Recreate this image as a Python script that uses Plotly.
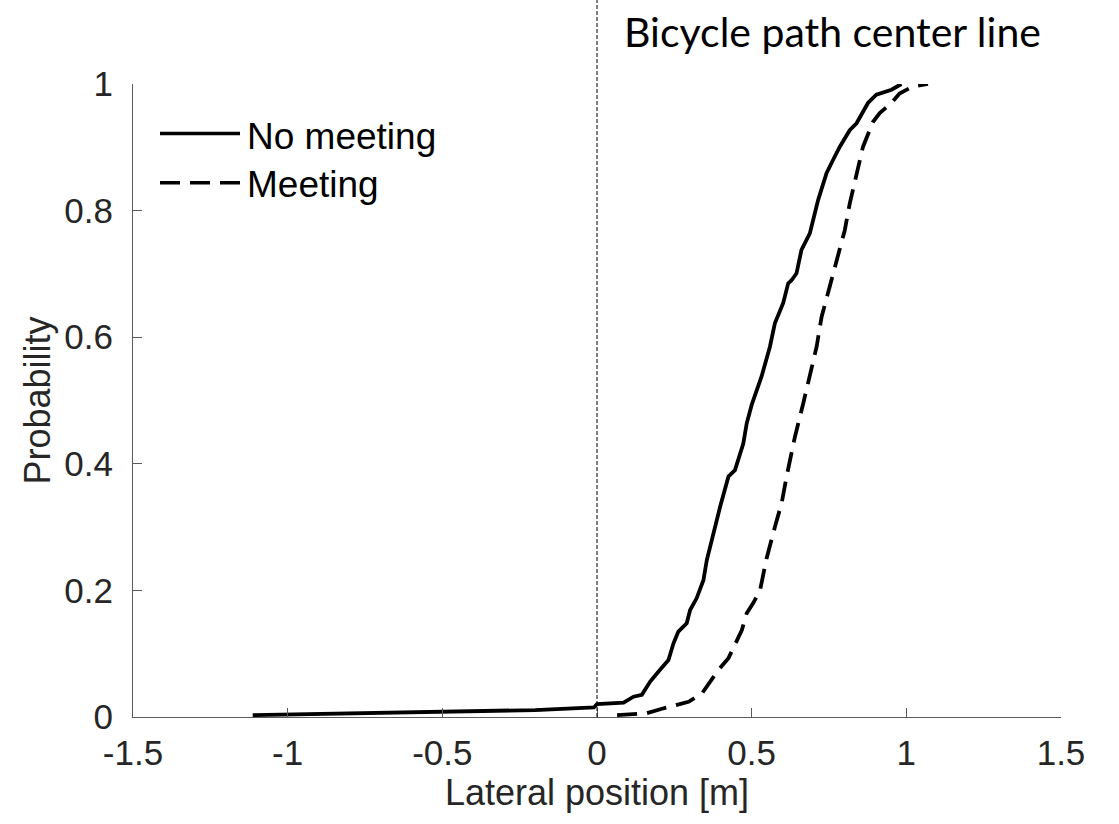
import plotly.graph_objects as go

# Empirical CDF of lateral position, no oncoming cyclist
no_meeting_x = [-1.113, -0.5, -0.2, -0.01, 0.0, 0.086, 0.118, 0.145, 0.172, 0.199, 0.231,
                0.247, 0.263, 0.29, 0.301, 0.322, 0.344, 0.355, 0.371, 0.398, 0.425, 0.446,
                0.473, 0.484, 0.5, 0.532, 0.559, 0.575, 0.602, 0.618, 0.629, 0.645, 0.661,
                0.688, 0.715, 0.742, 0.763, 0.785, 0.817, 0.839, 0.876, 0.903, 0.952, 0.984]
no_meeting_y = [0.003, 0.008, 0.011, 0.015, 0.0205, 0.0226, 0.032, 0.035, 0.056, 0.072, 0.09,
                0.116, 0.135, 0.148, 0.169, 0.1875, 0.216, 0.248, 0.28, 0.332, 0.38, 0.39,
                0.432, 0.464, 0.493, 0.538, 0.585, 0.622, 0.654, 0.685, 0.69, 0.701, 0.738,
                0.764, 0.817, 0.859, 0.88, 0.901, 0.927, 0.938, 0.97, 0.983, 0.991, 1.0]

# Empirical CDF of lateral position, meeting an oncoming cyclist
meeting_x = [0.065, 0.108, 0.161, 0.21, 0.253, 0.296, 0.339, 0.366, 0.392, 0.425, 0.446,
             0.468, 0.484, 0.505, 0.527, 0.548, 0.575, 0.597, 0.613, 0.624, 0.64, 0.667,
             0.688, 0.71, 0.726, 0.747, 0.774, 0.801, 0.817, 0.839, 0.86, 0.892, 0.914,
             0.952, 0.978, 1.021, 1.07]
meeting_y = [0.003, 0.004, 0.006, 0.013, 0.019, 0.024, 0.037, 0.056, 0.074, 0.093, 0.116,
             0.137, 0.164, 0.18, 0.2, 0.25, 0.3, 0.338, 0.38, 0.406, 0.443, 0.496,
             0.538, 0.585, 0.632, 0.669, 0.722, 0.769, 0.811, 0.854, 0.901, 0.94, 0.954,
             0.97, 0.985, 0.996, 1.0]

x_ticks = [-1.5, -1, -0.5, 0, 0.5, 1, 1.5]
x_tick_text = ["-1.5", "-1", "-0.5", "0", "0.5", "1", "1.5"]
y_ticks = [0, 0.2, 0.4, 0.6, 0.8, 1]
y_tick_text = ["0", "0.2", "0.4", "0.6", "0.8", "1"]

series_names = ["No meeting", "Meeting"]

AXIS = "#5a5a5a"
TEXT = "#262626"
FONT = "Liberation Sans, Arial, sans-serif"
DASH = "20px,10px"

# plot-area geometry (pixels) used to place paper-referenced items
L, R, T, B = 133, 1061, 84, 717
PW, PH = R - L, B - T


def px(xp):
    return (xp - L) / PW


def py(yp):
    return (B - yp) / PH


fig = go.Figure()
fig.add_trace(go.Scatter(x=no_meeting_x, y=no_meeting_y, mode="lines", name=series_names[0],
                         line=dict(color="black", width=3.8), showlegend=False))
fig.add_trace(go.Scatter(x=meeting_x, y=meeting_y, mode="lines", name=series_names[1],
                         line=dict(color="black", width=3.8, dash=DASH), showlegend=False))

# Bicycle path center line
fig.add_shape(type="line", xref="x", yref="paper", x0=0, x1=0, y0=0, y1=py(0),
              line=dict(color="black", width=1, dash="4px,2px"))
fig.add_annotation(text="Bicycle path center line", xref="paper", yref="paper",
                   x=px(622), y=py(32), xanchor="left", yanchor="middle",
                   showarrow=False, font=dict(family="Lato, sans-serif", size=41, color="black"))

# Legend drawn as line samples with text labels
legend_rows = [(133.5, "solid", 136), (182.7, DASH, 184)]
for (ly, dash, ty), name in zip(legend_rows, series_names):
    fig.add_shape(type="line", xref="paper", yref="paper",
                  x0=px(160), x1=px(240), y0=py(ly), y1=py(ly),
                  line=dict(color="black", width=3.5, dash=dash))
    fig.add_annotation(text=name, xref="paper", yref="paper", x=px(245), y=py(ty),
                       xanchor="left", yanchor="middle", showarrow=False,
                       font=dict(family=FONT, size=37, color="black"))

fig.update_layout(
    width=1119, height=824,
    margin=dict(l=L, r=1119 - R, t=T, b=824 - B),
    paper_bgcolor="white", plot_bgcolor="white",
    font=dict(family=FONT, color=TEXT),
    showlegend=False,
    xaxis=dict(range=[-1.5, 1.5], tickvals=x_ticks, ticktext=x_tick_text,
               showgrid=False, zeroline=False, showline=True, linecolor=AXIS, linewidth=1.3,
               ticks="inside", ticklen=9, tickcolor=AXIS, tickwidth=1.3,
               tickfont=dict(size=35, color=TEXT), ticklabelstandoff=5,
               title=dict(text="Lateral position [m]", font=dict(size=36, color=TEXT), standoff=6)),
    yaxis=dict(range=[0, 1], tickvals=y_ticks, ticktext=y_tick_text,
               showgrid=False, zeroline=False, showline=True, linecolor=AXIS, linewidth=1.3,
               ticks="inside", ticklen=9, tickcolor=AXIS, tickwidth=1.3,
               tickfont=dict(size=35, color=TEXT), ticklabelstandoff=12,
               title=dict(text="Probability", font=dict(size=36, color=TEXT), standoff=2)),
)

fig.write_html("out.html")
